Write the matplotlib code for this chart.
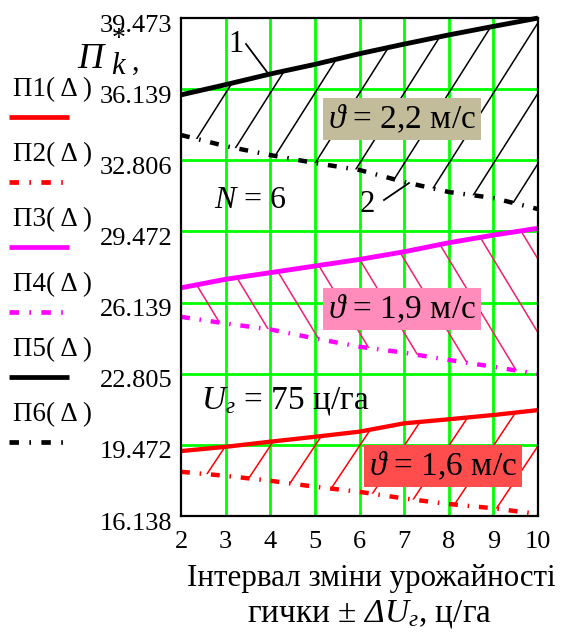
import numpy as np
import matplotlib
matplotlib.use('Agg')
import matplotlib.pyplot as plt
from matplotlib.lines import Line2D
import matplotlib.transforms as mtransforms

plt.rcParams['font.family'] = ['Liberation Serif', 'DejaVu Serif']
plt.rcParams['mathtext.fontset'] = 'custom'
plt.rcParams['mathtext.rm'] = 'Liberation Serif'
plt.rcParams['mathtext.it'] = 'Liberation Serif:italic'
plt.rcParams['mathtext.sf'] = 'Liberation Serif:italic'
plt.rcParams['mathtext.fallback'] = 'stix'

# ---------------- data ----------------
x = [2, 3, 4, 5, 6, 7, 8, 9, 10]
P1 = [19.18, 19.38, 19.62, 19.85, 20.09, 20.48, 20.67, 20.87, 21.10]
P2 = [18.21, 18.02, 17.79, 17.51, 17.27, 16.96, 16.70, 16.50, 16.23]
P3 = [26.83, 27.23, 27.54, 27.85, 28.16, 28.52, 28.94, 29.30, 29.62]
P4 = [25.47, 25.16, 24.88, 24.46, 24.07, 23.79, 23.45, 23.13, 22.79]
P5 = [35.87, 36.35, 36.85, 37.30, 37.80, 38.25, 38.68, 39.08, 39.47]
P6 = [33.99, 33.47, 33.05, 32.68, 32.35, 31.79, 31.32, 31.04, 30.52]

series_labels = ['П1( Δ )', 'П2( Δ )', 'П3( Δ )', 'П4( Δ )', 'П5( Δ )', 'П6( Δ )']
ytick_vals = [16.138, 19.472, 22.805, 26.139, 29.472, 32.806, 36.139, 39.473]
ytick_labels = ['16.138', '19.472', '22.805', '26.139', '29.472', '32.806', '36.139', '39.473']
xtick_vals = [2, 3, 4, 5, 6, 7, 8, 9, 10]
xtick_labels = ['2', '3', '4', '5', '6', '7', '8', '9', '10']
box_texts = [r'$\vartheta$ = 2,2 м/с', r'$\vartheta$ = 1,9 м/с', r'$\vartheta$ = 1,6 м/с']

# ---------------- styles ----------------
RED, MAG, BLK = '#FF0000', '#FF00FF', '#000000'
DASHDOT = (0, (2.0, 2.2, 0.35, 2.2))
styles = [
    dict(color=RED, lw=3.1, ls='-'),
    dict(color=RED, lw=3.2, ls=DASHDOT),
    dict(color=MAG, lw=3.5, ls='-'),
    dict(color=MAG, lw=3.2, ls=DASHDOT),
    dict(color=BLK, lw=3.5, ls='-'),
    dict(color=BLK, lw=3.2, ls=DASHDOT),
]

W, H = 563, 637
fig = plt.figure(figsize=(W / 100, H / 100), dpi=100)
ax = fig.add_axes([181 / W, 1 - 516 / H, (538 - 181) / W, (516 - 18) / H])


def fx(px):
    return px / W


def fy(py):
    return 1 - py / H


ax.set_xlim(2, 10)
ax.set_ylim(16.138, 39.473)

# grid
for xv in xtick_vals[1:-1]:
    ax.axvline(xv, color='#00FF00', lw=2.0, zorder=1)
for yv in ytick_vals[1:-1]:
    ax.axhline(yv, color='#00FF00', lw=2.0, zorder=1)


# hatching between curve pairs
def hatch(lo, hi, slope, x_anchor, y_anchor, color, lw):
    coll = ax.fill_between(x, lo, hi, facecolor='none', edgecolor='none')
    path = coll.get_paths()[0]
    ymin, ymax = min(lo) - 2, max(hi) + 2
    for k in range(-14, 15):
        xa = x_anchor + k * 1.0
        xs = [xa + (ymin - y_anchor) / slope, xa + (ymax - y_anchor) / slope]
        ln, = ax.plot(xs, [ymin, ymax], color=color, lw=lw, zorder=2)
        ln.set_clip_path(path, ax.transData)


hatch(P6, P5, 3.3, 2.35, float(np.interp(2.35, x, P6)), BLK, 1.1)
hatch(P4, P3, -3.45, 2.35, float(np.interp(2.35, x, P3)), '#F0206E', 1.1)
hatch(P2, P1, 3.15, 2.58, float(np.interp(2.58, x, P2)), RED, 1.1)

# main curves
for ys, st in zip([P1, P2, P3, P4, P5, P6], styles):
    ax.plot(x, ys, color=st['color'], lw=st['lw'], ls=st['ls'],
            zorder=4, clip_on=False, solid_capstyle='butt', dash_capstyle='butt')

# ticks
ax.set_yticks(ytick_vals, ytick_labels, fontsize=19)
ax.set_xticks(xtick_vals, xtick_labels, fontsize=19)
ax.tick_params(axis='both', length=0)
ax.tick_params(axis='y', pad=6)
ax.tick_params(axis='x', pad=11)
off = mtransforms.ScaledTranslation(0, -5 / 100, fig.dpi_scale_trans)
for lab in ax.get_yticklabels():
    lab.set_transform(lab.get_transform() + off)
for sp in ax.spines.values():
    sp.set_linewidth(1.6)
    sp.set_color('black')
    sp.set_zorder(5)

# boxes
box_specs = [((402, 119), '#C3BC9B'), ((402, 309), '#FF8CBB'), ((443, 466), '#FF4D4D')]
for (pos, fc), t in zip(box_specs, box_texts):
    fig.text(fx(pos[0]), fy(pos[1]), t, fontsize=24, ha='center', va='center',
             bbox=dict(boxstyle='square,pad=0.15', fc=fc, ec='none'), zorder=6)

# annotations
fig.text(fx(236), fy(45), '1', fontsize=22, ha='center', va='center')
fig.add_artist(Line2D([fx(246), fx(267)], [fy(44), fy(72)], color='black', lw=1.3))
fig.text(fx(367), fy(205), '2', fontsize=22, ha='center', va='center')
fig.add_artist(Line2D([fx(384), fx(409)], [fy(200), fy(183)], color='black', lw=1.3))
fig.text(fx(214), fy(200), r'$N$ = 6', fontsize=23, ha='left', va='center')
fig.text(fx(201), fy(401), r'$U_{г}$ = 75 ц/га', fontsize=24, ha='left', va='center')

# y label
fig.text(fx(77), fy(68), 'П', fontsize=26, style='italic', ha='left', va='baseline')
fig.text(fx(112), fy(46), '*', fontsize=20, ha='left', va='baseline')
fig.text(fx(111), fy(74), 'k', fontsize=22, style='italic', ha='left', va='baseline')
fig.text(fx(132), fy(70), ',', fontsize=22, ha='left', va='baseline')

# x label
fig.text(fx(371), fy(586), 'Інтервал зміни урожайності', fontsize=22.3, ha='center', va='baseline')
fig.text(fx(370), fy(621), r'гички ± $\mathsf{\Delta U}_{г}$, ц/га', fontsize=24,
         ha='center', va='baseline')

# manual legend
for i, (lab, st) in enumerate(zip(series_labels, styles)):
    ty = 90 + 65 * i
    ly = 117 + 65 * i
    fig.text(fx(13), fy(ty), lab, fontsize=19.5, ha='left', va='center')
    fig.add_artist(Line2D([fx(9), fx(69)], [fy(ly), fy(ly)], color=st['color'],
                          lw=3.4, ls=st['ls'], solid_capstyle='butt', dash_capstyle='butt'))

fig.savefig('out.png', dpi=100)
